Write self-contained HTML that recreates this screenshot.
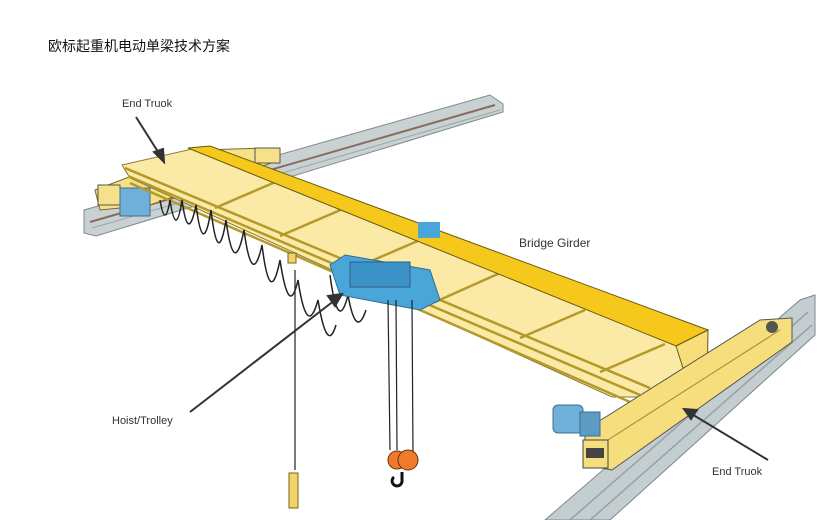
<!DOCTYPE html>
<html><head><meta charset="utf-8"><style>
html,body{margin:0;padding:0;background:#fff;width:840px;height:520px;overflow:hidden}
svg{display:block}
.lb{font-family:"Comic Sans MS","Liberation Sans",sans-serif;fill:#333}
</style></head><body>
<svg width="840" height="520" viewBox="0 0 840 520" xmlns="http://www.w3.org/2000/svg">
<text x="48" y="51" font-family="'Liberation Sans','Noto Sans CJK SC',sans-serif" font-size="14" fill="#111">欧标起重机电动单梁技术方案</text>
<!-- back rail -->
<polygon points="84,210 490,95 503,104 503,112 96,236 84,233" fill="#c9d1d3" stroke="#7d8a8d" stroke-width="1"/>
<polyline points="90,222 495,105" stroke="#8a6a60" stroke-width="2" fill="none"/>
<polyline points="92,228 500,110" stroke="#9aa5a8" stroke-width="1" fill="none"/>
<!-- front rail -->
<polygon points="545,520 800,300 815,295 815,335 610,520" fill="#c4cdd0" stroke="#7d8a8d"/>
<polyline points="570,520 808,312" stroke="#96a2a5" stroke-width="1.5" fill="none"/>
<polyline points="590,520 812,325" stroke="#96a2a5" stroke-width="1.5" fill="none"/>
<!-- back end truck -->
<polygon points="95,190 200,150 270,148 280,160 150,205 100,210" fill="#f6e08a" stroke="#7a6a20"/>
<rect x="98" y="185" width="22" height="20" fill="#f6e08a" stroke="#555"/>
<rect x="120" y="188" width="30" height="28" fill="#6fb0d8" stroke="#3a6f8f"/>
<rect x="255" y="148" width="25" height="15" fill="#f6e08a" stroke="#555"/>
<!-- walkway -->
<polygon points="122,165 192,149 690,340 690,372 650,397 612,397 130,178" fill="#fbe9a6" stroke="#8a7a30" stroke-width="1"/>
<!-- walkway rails -->
<g stroke="#b39a2a" stroke-width="2.5" fill="none">
<polyline points="125,168 650,388"/>
<polyline points="128,176 640,395"/>
<polyline points="130,183 630,402"/>
<line x1="215" y1="208" x2="280" y2="180"/>
<line x1="280" y1="236" x2="345" y2="208"/>
<line x1="355" y1="268" x2="420" y2="240"/>
<line x1="435" y1="302" x2="500" y2="273"/>
<line x1="520" y1="338" x2="585" y2="310"/>
<line x1="600" y1="372" x2="665" y2="344"/>
</g>
<!-- girder top -->
<polygon points="188,148 210,146 708,330 676,346" fill="#f5c81b" stroke="#6a5a10"/>
<polygon points="676,346 708,330 707,387 690,390" fill="#f7de7a" stroke="#6a5a10"/>
<!-- front end truck -->
<polygon points="585,430 760,320 792,318 792,342 612,470 585,465" fill="#f6de7c" stroke="#555"/>
<polyline points="600,445 780,330" stroke="#a08a30" fill="none"/>
<rect x="583" y="440" width="25" height="28" fill="#f6de7c" stroke="#444"/>
<rect x="586" y="448" width="18" height="10" fill="#444"/>
<circle cx="772" cy="327" r="6" fill="#555"/>
<!-- motor -->
<rect x="553" y="405" width="30" height="28" rx="5" fill="#6fb0d8" stroke="#3a6f8f"/>
<rect x="580" y="412" width="20" height="24" fill="#5c9cc4" stroke="#3a6f8f"/>
<!-- festoon cables -->
<g stroke="#222" stroke-width="1.5" fill="none">
<path d="M160,200 q5,30 10,0 q6,40 12,0 q6,45 14,5 q7,55 15,5 q7,60 15,10 q8,60 18,10 q8,60 18,15 q8,65 18,15 q9,60 18,20 q9,60 20,20 q9,55 18,25"/>
<path d="M330,275 q8,60 18,20 q8,45 18,15"/>
</g>
<!-- hoist -->
<rect x="418" y="222" width="22" height="16" fill="#4aa6d8"/>
<polygon points="330,265 345,255 430,270 440,300 420,310 340,295" fill="#4aa6d8" stroke="#2f6d91"/>
<rect x="350" y="262" width="60" height="25" fill="#3c93c8" stroke="#2a5f80"/>
<!-- ropes -->
<g stroke="#222" stroke-width="1.2">
<line x1="388" y1="300" x2="390" y2="450"/><line x1="396" y1="300" x2="397" y2="450"/>
<line x1="412" y1="300" x2="413" y2="455"/>
<line x1="295" y1="270" x2="295" y2="470"/>
</g>
<circle cx="397" cy="460" r="9" fill="#f07a2a" stroke="#6a3010"/>
<circle cx="408" cy="460" r="10" fill="#f07a2a" stroke="#6a3010"/>
<path d="M402,472 v8 a5,5 0 1 1 -8,-3" stroke="#111" stroke-width="3" fill="none"/>
<rect x="289" y="473" width="9" height="35" fill="#f1d36a" stroke="#7a6020"/>
<rect x="288" y="253" width="8" height="10" fill="#f1d36a" stroke="#7a6020"/>
<!-- labels & arrows -->
<g stroke="#333" stroke-width="2" fill="#333">
<line x1="136" y1="117" x2="160" y2="155"/><polygon points="164,162 154,152 163,149"/>
<line x1="190" y1="412" x2="335" y2="300"/><polygon points="342,294 328,296 335,306"/>
<line x1="768" y1="460" x2="690" y2="413"/><polygon points="684,409 697,410 691,419"/>
</g>
<text class="lb" x="122" y="107" font-size="11">End Truok</text>
<text class="lb" x="519" y="247" font-size="12">Bridge Girder</text>
<text class="lb" x="112" y="424" font-size="11">Hoist/Trolley</text>
<text class="lb" x="712" y="475" font-size="11">End Truok</text>
</svg>
</body></html>
